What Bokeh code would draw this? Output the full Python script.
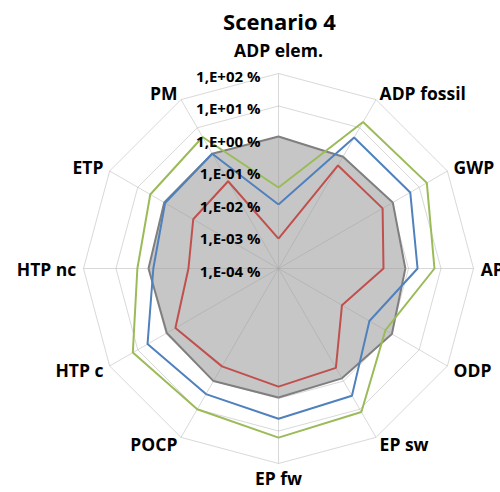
import numpy as np
from bokeh.plotting import figure
from bokeh.models import Range1d
from bokeh.core.properties import value
from bokeh.embed import file_html
from bokeh.resources import INLINE

title = "Scenario 4"
categories = ["ADP elem.", "ADP fossil", "GWP", "AP", "ODP", "EP sw",
              "EP fw", "POCP", "HTP c", "HTP nc", "ETP", "PM"]
tick_values = [1e-4, 1e-3, 1e-2, 1e-1, 1e0, 1e1, 1e2]
tick_labels = ["1,E-04 %", "1,E-03 %", "1,E-02 %", "1,E-01 %",
               "1,E+00 %", "1,E+01 %", "1,E+02 %"]

# values in %
grey = [1.15, 0.93, 1.15, 0.8, 1.07, 0.8, 0.93, 1.0, 0.93, 1.0, 1.15, 1.2]
red = [0.00083, 0.46, 0.5, 0.17, 0.018, 0.34, 0.43, 0.3, 0.46, 0.059, 0.107, 0.126]
blue = [0.0093, 4.5, 4.8, 1.9, 0.17, 3.3, 4.2, 2.9, 4.5, 0.71, 1.07, 1.2]
green = [0.031, 16.0, 18.6, 6.3, 0.63, 12.6, 16.0, 10.0, 15.0, 2.2, 3.6, 4.7]

FONT = "Open Sans"
W, H = 500, 492
S = 32.5            # px per decade
CX, CY = 278, 268   # centre in plot pixels

n = len(categories)
ang = np.pi / 2 - 2 * np.pi * np.arange(n) / n
base = np.log10(tick_values[0])
rmax = np.log10(tick_values[-1]) - base


def radius(vals):
    return np.log10(np.asarray(vals, dtype=float)) - base


def xy(vals):
    r = radius(vals)
    x = r * np.cos(ang)
    y = r * np.sin(ang)
    return list(np.append(x, x[0])), list(np.append(y, y[0]))


p = figure(width=W, height=H, output_backend="svg", toolbar_location=None,
           x_axis_location=None, y_axis_location=None,
           x_range=Range1d(-CX / S, (W - CX) / S),
           y_range=Range1d(-(H - CY) / S, CY / S),
           min_border=0, outline_line_color=None)
p.grid.visible = False

# rings
ring_xs, ring_ys = [], []
for tv in tick_values[1:]:
    r = np.log10(tv) - base
    ring_xs.append(list(np.append(r * np.cos(ang), r * np.cos(ang[0]))))
    ring_ys.append(list(np.append(r * np.sin(ang), r * np.sin(ang[0]))))
p.multi_line(ring_xs, ring_ys, line_color="#D9D9D9", line_width=1)

# grey filled series
gx, gy = xy(grey)
p.patch(gx, gy, fill_color="#C6C6C6", line_color="#7F7F7F", line_width=2)

# spokes
p.segment(x0=[0] * n, y0=[0] * n, x1=list(rmax * np.cos(ang)), y1=list(rmax * np.sin(ang)),
          line_color="#9A9A9A", line_alpha=0.38, line_width=1)

for vals, col in ((red, "#C0504D"), (blue, "#4F81BD"), (green, "#9BBB59")):
    x, y = xy(vals)
    p.line(x, y, line_color=col, line_width=2)

# category labels
lr = 6.22
lx, ly, la, lyo = [], [], [], []
for i, c in enumerate(categories):
    cx_, cy_ = np.cos(ang[i]), np.sin(ang[i])
    if abs(cx_) < 1e-6:
        lx.append(0.0)
        if cy_ > 0:
            ly.append(lr)
            lyo.append(-16)
        else:
            ly.append(-lr)
            lyo.append(7)
        la.append("center")
    else:
        lx.append(lr * cx_)
        ly.append(lr * cy_)
        lyo.append(0)
        la.append("left" if cx_ > 0 else "right")
p.text(x=lx, y=ly, text=categories, text_align=la, text_baseline="middle",
       y_offset=lyo,
       text_font=value(FONT), text_font_style="bold", text_font_size="17.5px",
       text_color="#000000")

# tick labels
tr = [np.log10(t) - base for t in tick_values]
p.text(x=[0] * len(tr), y=tr, text=tick_labels, text_align="right",
       text_baseline="middle", x_offset=-18, y_offset=2,
       text_font=value(FONT), text_font_style="bold", text_font_size="15px",
       text_color="#000000")

# title
p.text(x=[0.03], y=[CY / S], text=[title], text_align="center", text_baseline="middle",
       y_offset=20, text_font=value(FONT), text_font_style="bold",
       text_font_size="22px", text_color="#000000")

open("out.html", "w").write(file_html(p, INLINE))
